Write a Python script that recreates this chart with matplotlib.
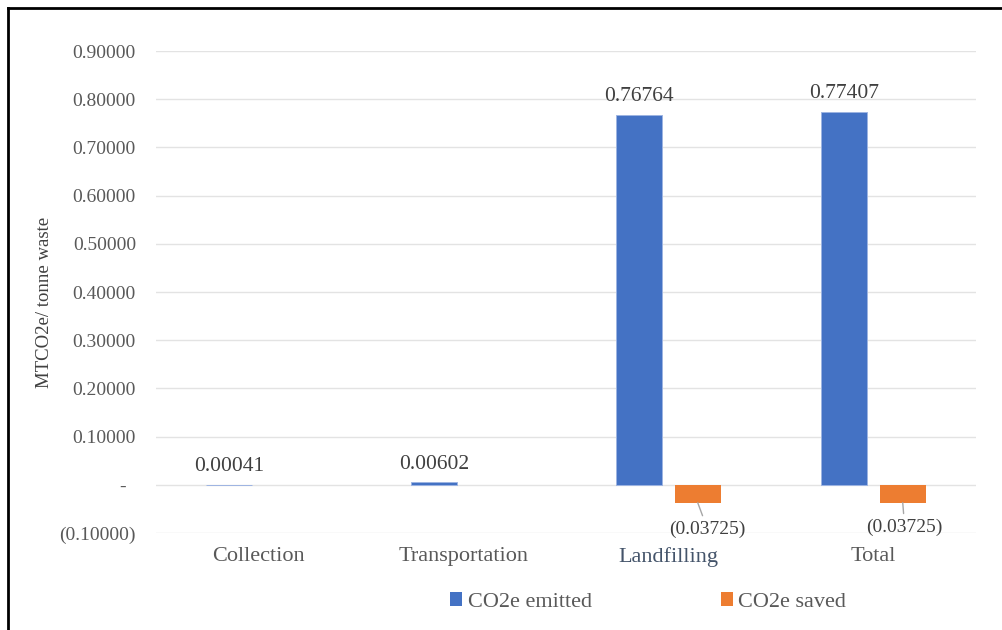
import matplotlib
matplotlib.use("Agg")
import matplotlib.pyplot as plt
from matplotlib.lines import Line2D
from matplotlib.patches import Patch
import numpy as np

categories = ["Collection", "Transportation", "Landfilling", "Total"]
co2e_emitted = [0.00041, 0.00602, 0.76764, 0.77407]
co2e_saved = [0.0, 0.0, -0.03725, -0.03725]
yticks = [-0.1, 0.0, 0.1, 0.2, 0.3, 0.4, 0.5, 0.6, 0.7, 0.8, 0.9]
ytick_labels = ["(0.10000)", "-  ", "0.10000", "0.20000", "0.30000", "0.40000",
                "0.50000", "0.60000", "0.70000", "0.80000", "0.90000"]

BLUE = "#4472C4"
ORANGE = "#ED7D31"
TEXT = "#595959"
LABEL = "#404040"

plt.rcParams["font.family"] = ["Liberation Serif", "DejaVu Serif"]

fig = plt.figure(figsize=(10.03, 6.30), dpi=100)
ax = fig.add_axes([0.1555, 0.154, 0.8175, 0.765])

x = np.arange(len(categories))
w = 0.225
off = 0.143
bars_e = ax.bar(x - off, co2e_emitted, width=w, color=BLUE, edgecolor="#9DB4E2",
                linewidth=0.7, zorder=3)
bars_s = ax.bar(x + off, co2e_saved, width=w, color=ORANGE, linewidth=0, zorder=3)

ax.set_xlim(-0.5, len(categories) - 0.5)
ax.set_ylim(-0.1, 0.9)
ax.set_yticks(yticks)
ax.set_yticklabels(ytick_labels)
ax.yaxis.grid(True, color="#E3E3E3", linewidth=1.0, zorder=0)
ax.set_axisbelow(True)
for s in ax.spines.values():
    s.set_visible(False)
ax.tick_params(axis="y", length=0, pad=14.4, labelsize=14, labelcolor=TEXT)
ax.set_xticks(x)
ax.set_xticklabels(categories)
ax.tick_params(axis="x", length=0, pad=10, labelsize=16, labelcolor=TEXT)
ax.get_xticklabels()[2].set_color("#44546A")

# value labels for emitted bars
for xi, v in zip(x, co2e_emitted):
    ax.annotate(f"{v:.5f}", (xi - off, v), xytext=(0, 6), textcoords="offset points",
                ha="center", va="bottom", fontsize=15.5, color=LABEL)

# value labels for saved bars, with leader lines
label_shift = [(0, 0), (0, 0), (10, -27), (2, -25)]
for xi, v, (dx, dy) in zip(x, co2e_saved, label_shift):
    if v == 0:
        continue
    ax.annotate(f"({abs(v):.5f})", (xi + off, v), xytext=(dx, dy), textcoords="offset pixels",
                ha="center", va="center", fontsize=14, color=LABEL,
                arrowprops=dict(arrowstyle="-", color="#A6A6A6", lw=1.0,
                                shrinkA=2, shrinkB=0))

fig.text(45 / 1003, 1 - 302 / 630, "MTCO2e/ tonne waste", rotation=90,
         ha="center", va="center", fontsize=13.5, color=LABEL)

handles = [Patch(facecolor=BLUE, label="CO2e emitted"),
           Patch(facecolor=ORANGE, label="CO2e saved")]
fig.legend(handles=handles, loc="center", bbox_to_anchor=(648 / 1003, 1 - 602 / 630),
           ncol=2, frameon=False, fontsize=16, labelcolor=TEXT,
           handlelength=0.55, handleheight=0.55, handletextpad=0.25, columnspacing=5.8)

# frame edges at top and left
fig.add_artist(Line2D([8 / 1003, 8 / 1003], [0, 1 - 8 / 630], color="black", lw=2,
                      transform=fig.transFigure))
fig.add_artist(Line2D([8 / 1003, 1], [1 - 8 / 630, 1 - 8 / 630], color="black", lw=2,
                      transform=fig.transFigure))

fig.savefig("out.png", dpi=100, facecolor="white")
